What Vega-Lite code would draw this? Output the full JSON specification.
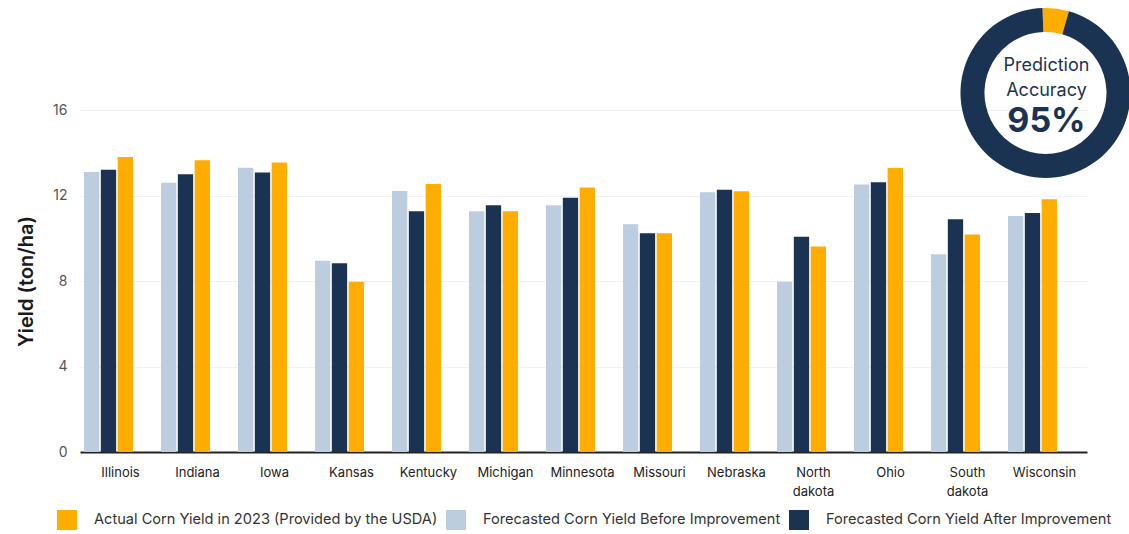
{
  "$schema": "https://vega.github.io/schema/vega-lite/v6.json",
  "width": 1007,
  "height": 342,
  "autosize": {"type": "none"},
  "padding": {"left": 80, "top": 110, "right": 42, "bottom": 82},
  "config": {"view": {"stroke": null}, "font": "Inter"},
  "datasets": {
    "yield": [
      {"state": "Illinois", "series": "Forecasted Corn Yield Before Improvement", "value": 13.1},
      {"state": "Illinois", "series": "Forecasted Corn Yield After Improvement", "value": 13.2},
      {"state": "Illinois", "series": "Actual Corn Yield in 2023 (Provided by the USDA)", "value": 13.8},
      {"state": "Indiana", "series": "Forecasted Corn Yield Before Improvement", "value": 12.6},
      {"state": "Indiana", "series": "Forecasted Corn Yield After Improvement", "value": 13.0},
      {"state": "Indiana", "series": "Actual Corn Yield in 2023 (Provided by the USDA)", "value": 13.65},
      {"state": "Iowa", "series": "Forecasted Corn Yield Before Improvement", "value": 13.3},
      {"state": "Iowa", "series": "Forecasted Corn Yield After Improvement", "value": 13.08},
      {"state": "Iowa", "series": "Actual Corn Yield in 2023 (Provided by the USDA)", "value": 13.54},
      {"state": "Kansas", "series": "Forecasted Corn Yield Before Improvement", "value": 8.95},
      {"state": "Kansas", "series": "Forecasted Corn Yield After Improvement", "value": 8.83},
      {"state": "Kansas", "series": "Actual Corn Yield in 2023 (Provided by the USDA)", "value": 7.97},
      {"state": "Kentucky", "series": "Forecasted Corn Yield Before Improvement", "value": 12.21},
      {"state": "Kentucky", "series": "Forecasted Corn Yield After Improvement", "value": 11.26},
      {"state": "Kentucky", "series": "Actual Corn Yield in 2023 (Provided by the USDA)", "value": 12.54},
      {"state": "Michigan", "series": "Forecasted Corn Yield Before Improvement", "value": 11.26},
      {"state": "Michigan", "series": "Forecasted Corn Yield After Improvement", "value": 11.54},
      {"state": "Michigan", "series": "Actual Corn Yield in 2023 (Provided by the USDA)", "value": 11.26},
      {"state": "Minnesota", "series": "Forecasted Corn Yield Before Improvement", "value": 11.54},
      {"state": "Minnesota", "series": "Forecasted Corn Yield After Improvement", "value": 11.9},
      {"state": "Minnesota", "series": "Actual Corn Yield in 2023 (Provided by the USDA)", "value": 12.38},
      {"state": "Missouri", "series": "Forecasted Corn Yield Before Improvement", "value": 10.65},
      {"state": "Missouri", "series": "Forecasted Corn Yield After Improvement", "value": 10.23},
      {"state": "Missouri", "series": "Actual Corn Yield in 2023 (Provided by the USDA)", "value": 10.23},
      {"state": "Nebraska", "series": "Forecasted Corn Yield Before Improvement", "value": 12.15},
      {"state": "Nebraska", "series": "Forecasted Corn Yield After Improvement", "value": 12.27},
      {"state": "Nebraska", "series": "Actual Corn Yield in 2023 (Provided by the USDA)", "value": 12.2},
      {"state": "North dakota", "series": "Forecasted Corn Yield Before Improvement", "value": 7.97},
      {"state": "North dakota", "series": "Forecasted Corn Yield After Improvement", "value": 10.07},
      {"state": "North dakota", "series": "Actual Corn Yield in 2023 (Provided by the USDA)", "value": 9.61},
      {"state": "Ohio", "series": "Forecasted Corn Yield Before Improvement", "value": 12.52},
      {"state": "Ohio", "series": "Forecasted Corn Yield After Improvement", "value": 12.62},
      {"state": "Ohio", "series": "Actual Corn Yield in 2023 (Provided by the USDA)", "value": 13.29},
      {"state": "South dakota", "series": "Forecasted Corn Yield Before Improvement", "value": 9.25},
      {"state": "South dakota", "series": "Forecasted Corn Yield After Improvement", "value": 10.89},
      {"state": "South dakota", "series": "Actual Corn Yield in 2023 (Provided by the USDA)", "value": 10.17},
      {"state": "Wisconsin", "series": "Forecasted Corn Yield Before Improvement", "value": 11.04},
      {"state": "Wisconsin", "series": "Forecasted Corn Yield After Improvement", "value": 11.18},
      {"state": "Wisconsin", "series": "Actual Corn Yield in 2023 (Provided by the USDA)", "value": 11.82}
    ],
    "accuracy": [
      {"part": "Error", "share": 5},
      {"part": "Accurate", "share": 95}
    ],
    "badge": [
      {"title": "Prediction Accuracy", "pct": "95%"}
    ]
  },
  "layer": [
    {
      "data": {"name": "yield"},
      "mark": {"type": "bar"},
      "encoding": {
        "x": {
          "field": "state",
          "type": "nominal",
          "sort": null,
          "scale": {"paddingInner": 0.364, "paddingOuter": 0.221, "align": 0.1175},
          "axis": {
            "title": null,
            "labelAngle": 0,
            "ticks": false,
            "domainColor": "#222222",
            "domainWidth": 2,
            "labelFontSize": 13,
            "labelColor": "#222222",
            "labelPadding": 20,
            "labelOffset": 12,
            "labelBaseline": "middle",
            "labelLineHeight": 19,
            "labelExpr": "datum.value == 'North dakota' ? ['North', 'dakota'] : datum.value == 'South dakota' ? ['South', 'dakota'] : datum.value"
          }
        },
        "xOffset": {
          "field": "series",
          "type": "nominal",
          "sort": ["Forecasted Corn Yield Before Improvement", "Forecasted Corn Yield After Improvement", "Actual Corn Yield in 2023 (Provided by the USDA)"],
          "scale": {"paddingInner": 0.09, "paddingOuter": 0}
        },
        "y": {
          "field": "value",
          "type": "quantitative",
          "scale": {"domain": [0, 16], "nice": false},
          "axis": {
            "values": [0, 4, 8, 12, 16],
            "domain": false,
            "ticks": false,
            "gridColor": "#f1f1f1",
            "labelFontSize": 14,
            "labelColor": "#555555",
            "labelPadding": 13,
            "title": "Yield  (ton/ha)",
            "titleFontSize": 20,
            "titleFontWeight": 600,
            "titleColor": "#1a1a1a",
            "titlePadding": 16
          }
        },
        "color": {
          "field": "series",
          "type": "nominal",
          "scale": {
            "domain": ["Actual Corn Yield in 2023 (Provided by the USDA)", "Forecasted Corn Yield Before Improvement", "Forecasted Corn Yield After Improvement"],
            "range": ["#ffad00", "#bccde0", "#1b3352"]
          },
          "legend": {
            "title": null,
            "orient": "none",
            "direction": "horizontal",
            "legendX": -23,
            "legendY": 400,
            "symbolType": "square",
            "symbolSize": 400,
            "symbolStrokeWidth": 0,
            "labelFontSize": 14.6,
            "labelColor": "#333333",
            "labelLimit": 500,
            "labelOffset": 17,
            "columnPadding": 8
          }
        }
      }
    },
    {
      "data": {"name": "accuracy"},
      "mark": {"type": "arc", "innerRadius": 61, "outerRadius": 85, "xOffset": 13},
      "encoding": {
        "x": {"datum": "Wisconsin", "type": "nominal"},
        "y": {"datum": 16.8, "type": "quantitative"},
        "theta": {"field": "share", "type": "quantitative", "stack": true, "scale": {"range": [-0.035, 6.248]}},
        "order": {"field": "share", "type": "quantitative"},
        "color": {
          "field": "part",
          "type": "nominal",
          "scale": {"domain": ["Error", "Accurate"], "range": ["#ffad00", "#1b3352"]},
          "legend": null
        }
      }
    },
    {
      "data": {"name": "badge"},
      "mark": {"type": "text", "fontSize": 18, "color": "#1b3352", "baseline": "middle", "align": "center", "lineBreak": " ", "lineHeight": 25, "dx": 14},
      "encoding": {
        "x": {"datum": "Wisconsin", "type": "nominal"},
        "y": {"datum": 18.06, "type": "quantitative"},
        "text": {"field": "title"}
      }
    },
    {
      "data": {"name": "badge"},
      "mark": {"type": "text", "fontSize": 34, "fontWeight": "bold", "color": "#1b3352", "baseline": "middle", "align": "center", "dx": 14},
      "encoding": {
        "x": {"datum": "Wisconsin", "type": "nominal"},
        "y": {"datum": 15.45, "type": "quantitative"},
        "text": {"field": "pct"}
      }
    }
  ],
  "resolve": {"scale": {"color": "independent"}}
}
